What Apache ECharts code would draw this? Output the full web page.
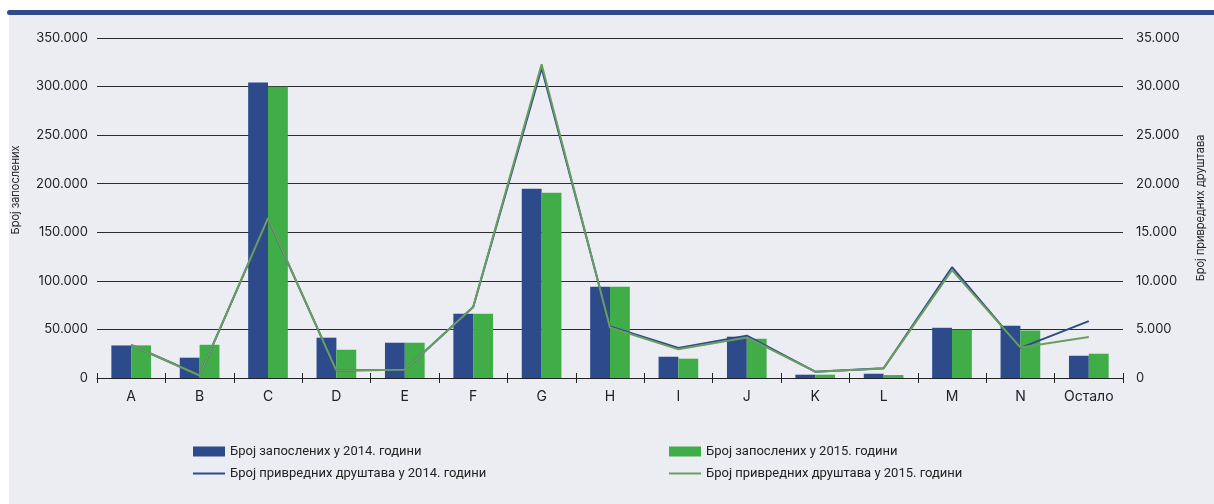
<!DOCTYPE html>
<html>
<head>
<meta charset="utf-8">
<script src="https://cdn.jsdelivr.net/npm/echarts@6/dist/echarts.min.js"></script>
<style>
  html, body { margin: 0; padding: 0; background: #fff; }
  #chart { width: 1214px; height: 504px; }
</style>
</head>
<body>
<div id="chart"></div>
<script>
// делатности
const categories = ['A', 'B', 'C', 'D', 'E', 'F', 'G', 'H', 'I', 'J', 'K', 'L', 'M', 'N', 'Остало'];

// број запослених (лева оса)
const employees2014 = [33500, 20900, 304100, 41500, 36300, 66100, 194700, 93900, 21900, 42500, 3400, 4400, 51700, 53800, 22900];
const employees2015 = [33600, 34200, 299700, 29100, 36300, 66100, 190600, 93900, 19900, 40400, 3400, 3000, 49700, 49000, 25000];

// број привредних друштава (десна оса)
const companies2014 = [3400, 280, 16400, 780, 850, 7300, 31900, 5300, 3100, 4350, 650, 1000, 11400, 3100, 5850];
const companies2015 = [3400, 260, 16460, 760, 850, 7300, 32300, 5200, 2950, 4180, 650, 990, 11100, 3150, 4220];

const leftTicks = { min: 0, max: 350000, interval: 50000 };
const rightTicks = { min: 0, max: 35000, interval: 5000 };

const names = {
  bar14: 'Број запослених у 2014. години',
  bar15: 'Број запослених у 2015. години',
  line14: 'Број привредних друштава у 2014. години',
  line15: 'Број привредних друштава у 2015. години'
};

const BLUE = '#2d4b8b';
const GREEN = '#40ad48';
const LINE_GREEN = '#6a9e60';
const FONT = 'Inter';
const LINE_ICON = 'path://M0,0 L32,0 L32,2 L0,2 Z';

function fmt(v) {
  return String(v).replace(/\B(?=(\d{3})+(?!\d))/g, '.');
}

const chart = echarts.init(document.getElementById('chart'));

const option = {
  backgroundColor: '#ffffff',
  animation: false,
  graphic: [
    { type: 'rect', z: -10, shape: { x: 9, y: 12, width: 1205, height: 492 }, style: { fill: '#ecedf2' } },
    { type: 'rect', z: 10, shape: { x: 7, y: 10, width: 1207, height: 5, r: [2.5, 0, 0, 2.5] }, style: { fill: '#2e4a8c' } }
  ],
  grid: { left: 97, right: 87, top: 38, bottom: 126 },
  legend: [
    {
      left: 188, top: 440, orient: 'vertical', itemGap: 9,
      itemWidth: 32, itemHeight: 10,
      textStyle: { fontFamily: 'Roboto', fontSize: 13, color: '#222' },
      data: [{ name: names.bar14, icon: 'rect' }, { name: names.line14, icon: LINE_ICON }]
    },
    {
      left: 664, top: 440, orient: 'vertical', itemGap: 9,
      itemWidth: 32, itemHeight: 10,
      textStyle: { fontFamily: 'Roboto', fontSize: 13, color: '#222' },
      data: [{ name: names.bar15, icon: 'rect' }, { name: names.line15, icon: LINE_ICON }]
    }
  ],
  xAxis: [
    {
      type: 'category',
      data: categories,
      axisLine: { lineStyle: { color: '#222', width: 1 } },
      axisTick: { show: true, length: 5, lineStyle: { color: '#222' } },
      axisLabel: { fontFamily: FONT, fontSize: 14, color: '#222', margin: 12 }
    },
    {
      type: 'category',
      data: categories,
      position: 'bottom',
      axisLine: { show: false },
      axisTick: { show: true, inside: true, length: 5, lineStyle: { color: '#222' } },
      axisLabel: { show: false }
    }
  ],
  yAxis: [
    {
      type: 'value',
      min: leftTicks.min, max: leftTicks.max, interval: leftTicks.interval,
      name: 'Број запослених',
      nameLocation: 'middle',
      nameGap: 76,
      nameTextStyle: { fontFamily: FONT, fontSize: 11, color: '#222', padding: [0, 0, 0, 36] },
      axisLine: { show: false },
      axisTick: { show: false },
      axisLabel: { fontFamily: FONT, fontSize: 13, color: '#222', margin: 9, formatter: fmt },
      splitLine: { lineStyle: { color: '#2a2a2a', width: 1.2 } }
    },
    {
      type: 'value',
      min: rightTicks.min, max: rightTicks.max, interval: rightTicks.interval,
      name: 'Број привредних друштава',
      nameLocation: 'middle',
      nameGap: 72,
      nameRotate: 90,
      nameTextStyle: { fontFamily: FONT, fontSize: 11, color: '#222' },
      axisLine: { show: false },
      axisTick: { show: false },
      axisLabel: { fontFamily: FONT, fontSize: 13, color: '#222', margin: 13, formatter: fmt },
      splitLine: { show: false }
    }
  ],
  series: [
    {
      name: names.bar14, type: 'bar', yAxisIndex: 0,
      data: employees2014, barGap: '0%', barCategoryGap: '42%',
      itemStyle: { color: BLUE }
    },
    {
      name: names.bar15, type: 'bar', yAxisIndex: 0,
      data: employees2015,
      itemStyle: { color: GREEN }
    },
    {
      name: names.line14, type: 'line', yAxisIndex: 1,
      data: companies2014, symbol: 'none', showSymbol: false,
      lineStyle: { color: BLUE, width: 2 }, itemStyle: { color: BLUE }
    },
    {
      name: names.line15, type: 'line', yAxisIndex: 1,
      data: companies2015, symbol: 'none', showSymbol: false,
      lineStyle: { color: LINE_GREEN, width: 2 }, itemStyle: { color: LINE_GREEN }
    }
  ]
};

chart.setOption(option);
</script>
</body>
</html>
